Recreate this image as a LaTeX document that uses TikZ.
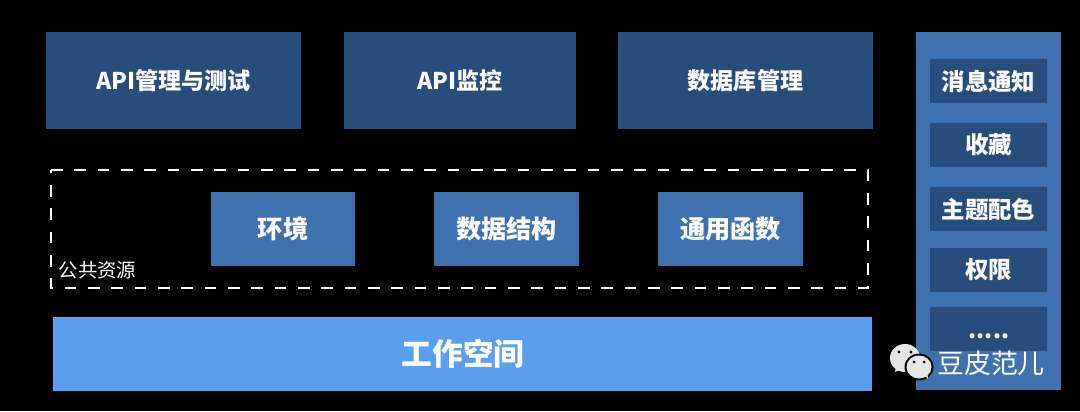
\documentclass[tikz,border=0pt]{standalone}
\usepackage{fontspec}
\setmainfont{Noto Sans CJK SC}
\definecolor{dk}{HTML}{264D7C}
\definecolor{mid}{HTML}{3F71AE}
\definecolor{light}{HTML}{5A9FEE}
\definecolor{bubble}{HTML}{E6E6E6}
\tikzset{px/.style={x=0.75pt,y=-0.75pt},
 box/.style={inner sep=0,text=white,font=\fontsize{17.3pt}{19pt}\selectfont\bfseries},
 midbox/.style={box,font=\fontsize{18.9pt}{20pt}\selectfont\bfseries},
 sidebox/.style={box,font=\fontsize{17.6pt}{19pt}\selectfont\bfseries}}
\newcommand{\bx}[7]{\fill[#6] (#2,#3) rectangle (#4,#5); \node[box] (#1) at ({(#2+#4)/2},{(#3+#5)/2}) {#7};}
\newcommand{\mx}[7]{\fill[#6] (#2,#3) rectangle (#4,#5); \node[midbox] (#1) at ({(#2+#4)/2},{(#3+#5)/2}) {#7};}
\newcommand{\sx}[7]{\fill[#6] (#2,#3) rectangle (#4,#5); \node[sidebox] (#1) at ({(#2+#4)/2},{(#3+#5)/2}) {#7};}
\begin{document}
\begin{tikzpicture}[px]
\fill[black] (0,0) rectangle (1080,411);
\useasboundingbox (0,0) rectangle (1080,411);
\bx{a}{46}{32}{301}{129}{dk}{API管理与测试}
\bx{b}{344}{32}{576}{129}{dk}{API监控}
\bx{c}{618}{32}{873}{129}{dk}{数据库管理}
\draw[white,line width=1.5pt,dash pattern=on 8.75pt off 8.75pt] (51,170) -- (868,170) -- (868,288) -- (51,288) -- cycle;
\mx{d}{211}{192}{355}{266}{mid}{环境}
\mx{e}{434}{192}{579}{266}{mid}{数据结构}
\mx{f}{658}{192}{803}{266}{mid}{通用函数}
\node[text=white,font=\fontsize{14.5pt}{16pt}\selectfont,inner sep=0] (g) at (97.5,270) {公共资源};
\fill[light] (53,317) rectangle (872,391);
\node[box,font=\fontsize{23pt}{26pt}\selectfont\bfseries] (h) at (463,354) {工作空间};
\fill[mid] (916,32) rectangle (1061,390);
\sx{i}{930}{59}{1047}{103}{dk}{消息通知}
\sx{j}{930}{123}{1047}{167}{dk}{收藏}
\sx{k}{930}{187}{1047}{231}{dk}{主题配色}
\sx{l}{930}{248}{1047}{292}{dk}{权限}
\fill[dk] (930,307) rectangle (1047,351);
\node[box] (m) at (989,336) {.....};
% watermark
\fill[bubble] (905,358) ellipse [x radius=15,y radius=14];
\fill[bubble] (896,366) -- (895,372) -- (903,369) -- cycle;
\fill[black] (899,352) circle (1.7) (911,352) circle (1.7);
\fill[black] (919,367) ellipse [x radius=14.5,y radius=13.5];
\fill[bubble] (919,367) ellipse [x radius=12.5,y radius=11.5];
\fill[bubble] (924,375) -- (928,379) -- (927,370) -- cycle;
\fill[black] (914,362) circle (1.5) (924,362) circle (1.5);
\node[text=white,font=\fontsize{20.2pt}{22pt}\selectfont,inner sep=0] (n) at (991,363) {豆皮范儿};
\end{tikzpicture}
\end{document}
